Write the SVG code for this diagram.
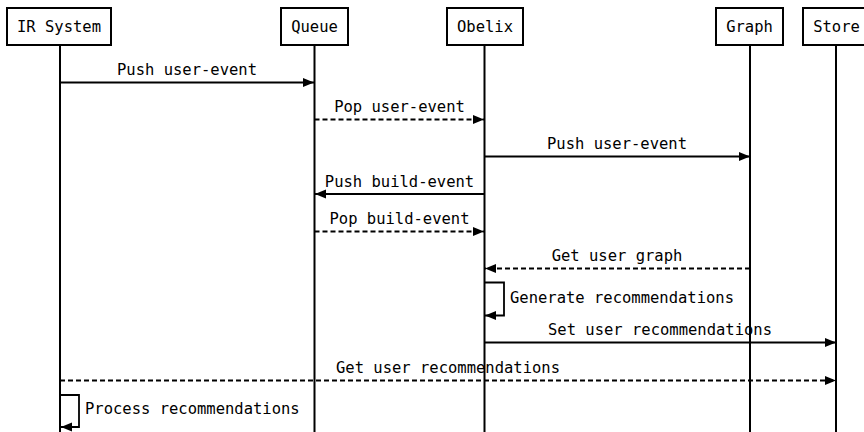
<svg xmlns="http://www.w3.org/2000/svg" width="864" height="432" viewBox="0 0 864 432">
<style>
.box{fill:#fff;stroke:#000;stroke-width:2}
.life{stroke:#000;stroke-width:2;fill:none}
.msg{stroke:#000;stroke-width:1.8;fill:none}
.dash{stroke-dasharray:5 3}
text{font-family:"DejaVu Sans Mono","Liberation Mono",monospace;font-size:15.5px;fill:#000}
.c{text-anchor:middle}
</style>
<defs>
<marker id="ah" viewBox="0 0 11 10" refX="11" refY="5" markerWidth="11" markerHeight="10" markerUnits="userSpaceOnUse" orient="auto">
<path d="M0,0.5 L11,5 L0,9.5 Z" fill="#000"/>
</marker>
</defs>
<g id="lifelines">
<line class="life" x1="60" y1="45" x2="60" y2="432"/>
<line class="life" x1="314.5" y1="45" x2="314.5" y2="432"/>
<line class="life" x1="484.5" y1="45" x2="484.5" y2="432"/>
<line class="life" x1="750" y1="45" x2="750" y2="432"/>
<line class="life" x1="836" y1="45" x2="836" y2="432"/>
</g>
<g id="node-ir"><rect class="box" x="7" y="8" width="104" height="37"/><text class="c" x="59" y="32">IR System</text></g>
<g id="node-queue"><rect class="box" x="281" y="8" width="67" height="37"/><text class="c" x="314.5" y="32">Queue</text></g>
<g id="node-obelix"><rect class="box" x="447" y="8" width="76" height="37"/><text class="c" x="485" y="32">Obelix</text></g>
<g id="node-graph"><rect class="box" x="716" y="8" width="67" height="37"/><text class="c" x="749.5" y="32">Graph</text></g>
<g id="node-store"><rect class="box" x="803" y="8" width="67" height="37"/><text class="c" x="836.5" y="32">Store</text></g>
<g id="connectors">
<line class="msg" x1="60" y1="82.5" x2="314" y2="82.5" marker-end="url(#ah)"/>
<text class="c" x="187" y="75">Push user-event</text>
<line class="msg dash" x1="314.5" y1="119.5" x2="484" y2="119.5" marker-end="url(#ah)"/>
<text class="c" x="399.5" y="112">Pop user-event</text>
<line class="msg" x1="484.5" y1="156.5" x2="750" y2="156.5" marker-end="url(#ah)"/>
<text class="c" x="617" y="149">Push user-event</text>
<line class="msg" x1="484.5" y1="194" x2="315" y2="194" marker-end="url(#ah)"/>
<text class="c" x="399.5" y="186.5">Push build-event</text>
<line class="msg dash" x1="314.5" y1="231.5" x2="484" y2="231.5" marker-end="url(#ah)"/>
<text class="c" x="399.5" y="224">Pop build-event</text>
<line class="msg dash" x1="750" y1="268.5" x2="485" y2="268.5" marker-end="url(#ah)"/>
<text class="c" x="617" y="261">Get user graph</text>
<path class="msg" d="M484.5,282.5 H504 V315.5 H485" marker-end="url(#ah)"/>
<text x="510" y="303">Generate recommendations</text>
<line class="msg" x1="484.5" y1="342.5" x2="836" y2="342.5" marker-end="url(#ah)"/>
<text class="c" x="660" y="335">Set user recommendations</text>
<line class="msg dash" x1="60" y1="380.5" x2="836" y2="380.5" marker-end="url(#ah)"/>
<text class="c" x="448" y="373">Get user recommendations</text>
<path class="msg" d="M60,395 H79 V427 H61" marker-end="url(#ah)"/>
<text x="85" y="414">Process recommendations</text>
</g>
</svg>
